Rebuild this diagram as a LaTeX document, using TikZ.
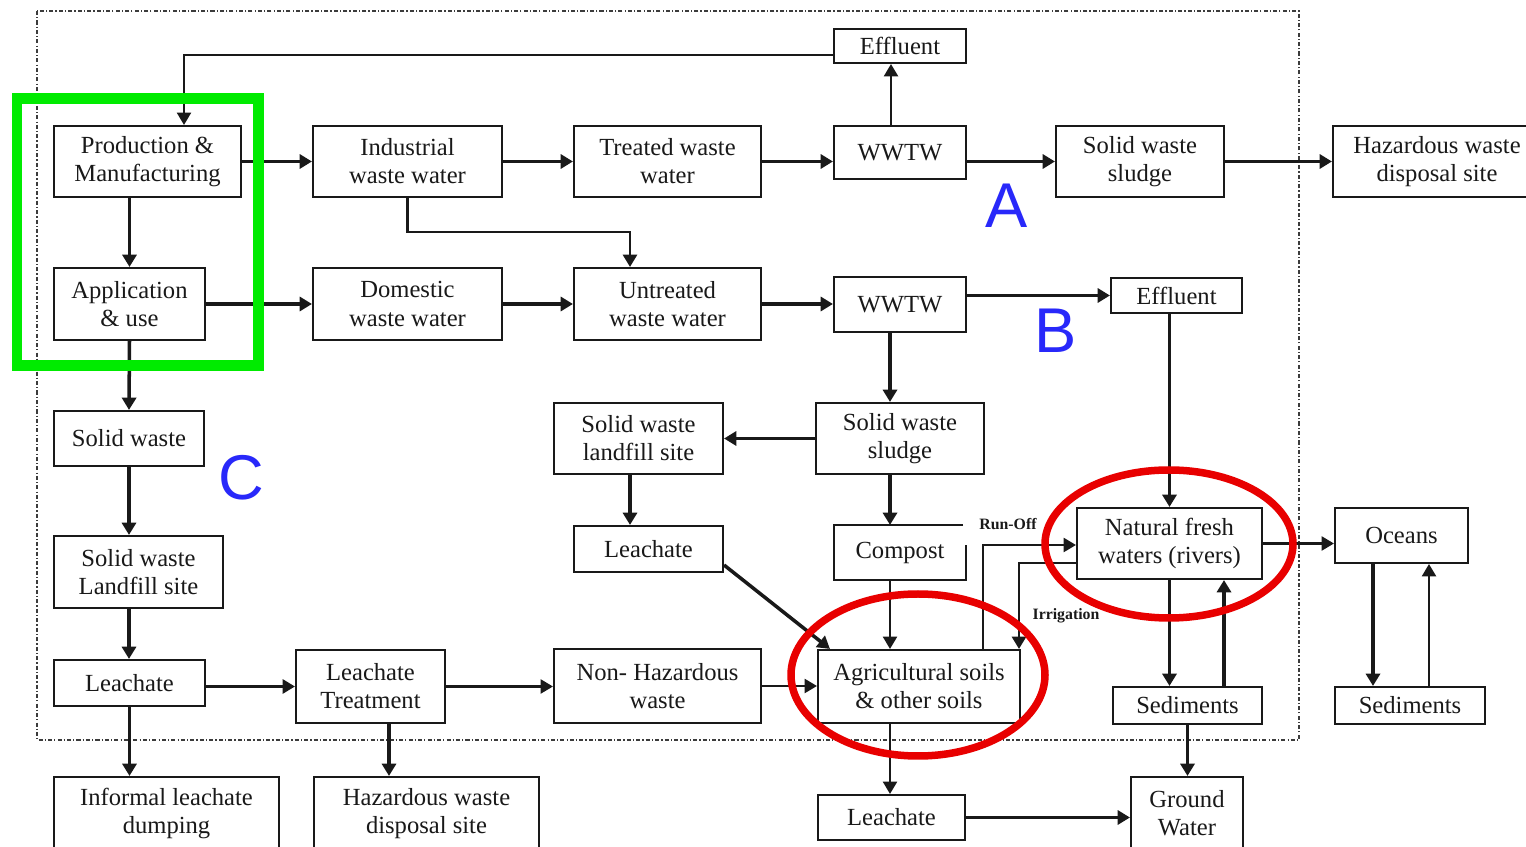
\documentclass[tikz,border=0pt]{standalone}
\usepackage{fontspec}
\setmainfont{Liberation Serif}
\newfontfamily\lettfont{Liberation Sans}
\usetikzlibrary{arrows.meta,calc}
\definecolor{rd}{RGB}{232,0,0}
\definecolor{gr}{RGB}{0,235,0}
\definecolor{bl}{RGB}{40,40,250}
\definecolor{ln}{RGB}{25,25,25}
\newcommand{\bx}[7][]{\node[box,#1, minimum width={(#5-#3)*0.02cm}, minimum height={(#6-#4)*0.02cm}] (#2) at ({(#3+#5)/2},{(#4+#6)/2}) {#7};}
\begin{document}
\begin{tikzpicture}[x=0.02cm,y=-0.02cm,
  box/.style={draw=ln, line width=1.2pt, fill=white, inner sep=0pt, align=center, text=ln, font=\fontsize{14}{16}\selectfont},
  arr/.style={-{Triangle[length=7pt,width=8pt]}},
  thk/.style={draw=ln, line width=2pt},
  med/.style={draw=ln, line width=1.5pt},
  thn/.style={draw=ln, line width=1.15pt},
  lbl/.style={font=\fontsize{9}{10}\selectfont\bfseries, inner sep=0pt, text=ln},
  lett/.style={font=\lettfont\fontsize{36}{36}\selectfont, text=bl, inner sep=0pt},
  ]
\useasboundingbox (0,0) rectangle (1526,847);
\clip (0,0) rectangle (1526,847);
\fill[white] (0,0) rectangle (1526,847);

% dash-dot system border
\draw[line width=1pt, draw=ln!85, dash pattern=on 2.3pt off 1.2pt on 0.7pt off 1.2pt] (37,11) rectangle (1299,740);

% helper coordinates
\coordinate (c630) at (630,0);
\coordinate (c890) at (890,0);
\coordinate (c389) at (389,0);
\coordinate (c1224) at (1224,0);
\coordinate (c1373) at (1373,0);
\coordinate (c1429) at (1429,0);
\coordinate (ro) at (983,545);
\coordinate (ir) at (1019,563);

% boxes
\bx{eff1}{834}{29}{966}{63}{Effluent}
\bx{prod}{54}{126}{241}{197}{Production \&\\Manufacturing}
\bx{ind}{313}{126}{502}{197}{Industrial\\waste water}
\bx{treat}{574}{126}{761}{197}{Treated waste\\water}
\bx{wwtwA}{834}{126}{966}{179}{WWTW}
\bx{sl1}{1056}{126}{1224}{197}{Solid waste\\sludge}
\bx{haz1}{1333}{126}{1541}{197}{Hazardous waste\\disposal site}
\bx{app}{54}{268}{205}{340}{Application\\\& use}
\bx{dom}{313}{268}{502}{340}{Domestic\\waste water}
\bx{unt}{574}{268}{761}{340}{Untreated\\waste water}
\bx{wwtwB}{834}{277}{966}{332}{WWTW}
\bx{effB}{1111}{278}{1242}{313}{Effluent}
\bx{sw}{54}{411}{204}{466}{Solid waste}
\bx{lf2}{554}{403}{723}{474}{Solid waste\\landfill site}
\bx{sl2}{816}{403}{984}{474}{Solid waste\\sludge}
\bx{le2}{574}{526}{723}{572}{Leachate}
\bx[draw=none]{comp}{835}{526}{965}{579}{Compost}
\bx{riv}{1077}{508}{1262}{579}{Natural fresh\\waters (rivers)}
\bx{oce}{1335}{508}{1468}{563}{Oceans}
\bx{lf1}{54}{536}{223}{608}{Solid waste\\Landfill site}
\bx{le1}{54}{660}{205}{706}{Leachate}
\bx{lt}{296}{650}{445}{723}{Leachate\\Treatment}
\bx{nh}{554}{649}{761}{723}{Non- Hazardous\\waste}
\bx{agri}{818}{650}{1020}{723}{Agricultural soils\\\& other soils}
\bx{sed1}{1113}{687}{1262}{724}{Sediments}
\bx{sed2}{1335}{687}{1485}{724}{Sediments}
\bx{inf}{54}{777}{279}{850}{Informal leachate\\dumping}
\bx{haz2}{314}{777}{539}{850}{Hazardous waste\\disposal site}
\bx{le3}{818}{795}{965}{840}{Leachate}
\bx{gw}{1131}{777}{1243}{850}{Ground\\Water}

% compost outline with its open corner
\draw[draw=ln, line width=1.2pt] ($(comp.north east)+(-3,0)$) -- (comp.north west) -- (comp.south west) -- (comp.south east) -- ($(comp.north east)+(0,20)$);

% connectors
\draw[thn,arr] ($(eff1.west)+(0,9)$) -| ($(prod.north)+(36.5,0)$);
\draw[thn,arr] ($(wwtwA.north)+(-9,0)$) -- ($(eff1.south)+(-9,0)$);
\draw[thk,arr] (prod.east) -- (ind.west);
\draw[thk,arr] (ind.east) -- (treat.west);
\draw[thk,arr] (treat.east) -- (wwtwA.west |- treat.east);
\draw[thk,arr] (wwtwA.east |- sl1.west) -- (sl1.west);
\draw[thk,arr] (sl1.east) -- (haz1.west);
\draw[med,arr] (ind.south) |- ($(unt.north)+(-37.5,-35)$) -- ($(unt.north)+(-37.5,0)$);
\draw[thk,arr] (prod.south -| app.north) -- (app.north);
\draw[thk,arr] (app.east) -- (dom.west);
\draw[thk,arr] (dom.east) -- (unt.west);
\draw[thk,arr] (unt.east) -- (wwtwB.west |- unt.east);
\draw[thk,arr] (wwtwB.east |- effB.west) -- (effB.west);
\draw[thk,arr] (wwtwB.south -| c890) -- (sl2.north -| c890);
\draw[thk,arr] (effB.south -| riv.north) -- (riv.north);
\draw[thk,arr] (sl2.west) -- (lf2.east);
\draw[thk,arr] (app.south) -- (sw.north);
\draw[thk,arr] (sw.south) -- (sw.south |- lf1.north);
\draw[thk,arr] (lf1.south -| sw.south) -- (le1.north -| sw.south);
\draw[thk,arr] (le1.south) -- (le1.south |- inf.north);
\draw[med,arr] (le1.east |- lt.west) -- (lt.west);
\draw[thn,arr] (lt.east) -- (nh.west |- lt.east);
\draw[thn,arr] (nh.east) -- (agri.west |- nh.east);
\draw[thk,arr] (lt.south -| c389) -- (haz2.north -| c389);
\draw[thk,arr] (lf2.south -| c630) -- (le2.north -| c630);
\draw[thk,arr] ($(le2.south east)+(0,-8)$) -- ($(agri.north west)+(13,0)$);
\draw[thk,arr] (sl2.south -| c890) -- (comp.north -| c890);
\draw[thn,arr] (comp.south -| c890) -- (agri.north -| c890);
\draw[thn,arr] (agri.north -| ro) |- (riv.west |- ro);
\draw[med,arr] (riv.west |- ir) -| (agri.north -| ir);
\draw[thn,arr] (riv.east) -- (oce.west |- riv.east);
\draw[thk,arr] (riv.south) -- (riv.south |- sed1.north);
\draw[thk,arr] (sed1.north -| c1224) -- (riv.south -| c1224);
\draw[thk,arr] (oce.south -| c1373) -- (sed2.north -| c1373);
\draw[thn,arr] (sed2.north -| c1429) -- (oce.south -| c1429);
\draw[thk,arr] (sed1.south) -- (sed1.south |- gw.north);
\draw[thn,arr] (agri.south -| c890) -- (le3.north -| c890);
\draw[thk,arr] (le3.east) -- (gw.west |- le3.east);

% small labels
\node[lbl] (runoff) at (1008,524) {Run-Off};
\node[lbl] (irr) at (1066,616) {Irrigation};

% highlights
\draw[gr, line width=0.22cm] (17,99) rectangle (258,366);
\draw[rd, line width=0.15cm] (918,675) ellipse [x radius=127, y radius=81];
\draw[rd, line width=0.15cm] (1169,544) ellipse [x radius=124, y radius=74];

% letters
\node[lett] (la) at (1007,206) {A};
\node[lett] (lb) at (1056,331) {B};
\node[lett] (lc) at (241,478) {C};
\end{tikzpicture}
\end{document}
